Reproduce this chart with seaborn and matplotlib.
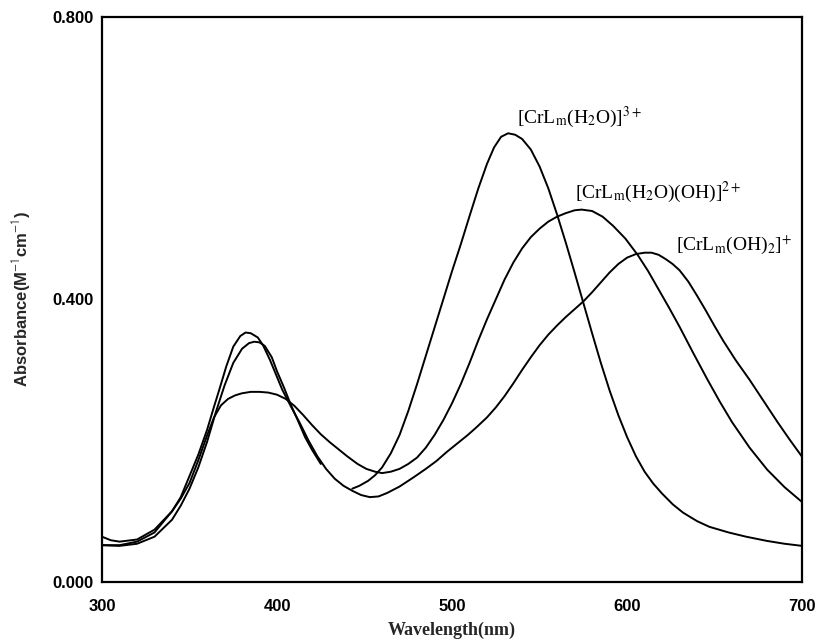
import matplotlib
matplotlib.use("Agg")
import matplotlib.pyplot as plt
import seaborn as sns
import pandas as pd

# ---- data ----
# [CrLm(H2O)]3+  (UV part, then visible part; gap between 425 and 443 nm)
a_uv_nm = [300, 310, 320, 330, 340, 345, 350, 355, 360, 365, 370, 375, 380, 384, 387,
           390, 393, 397, 400, 404, 408, 412, 416, 420, 425]
a_uv_abs = [0.052, 0.051, 0.054, 0.064, 0.088, 0.108, 0.132, 0.162, 0.198, 0.240, 0.278,
            0.310, 0.330, 0.338, 0.340, 0.339, 0.334, 0.318, 0.298, 0.275, 0.250, 0.228,
            0.205, 0.187, 0.167]
a_vis_nm = [443, 447, 452, 456, 460, 465, 470, 475, 480, 485, 490, 495, 500, 505, 510,
            515, 520, 524, 528, 532, 536, 540, 545, 550, 555, 560, 565, 570, 575, 580,
            585, 590, 595, 600, 605, 610, 615, 620, 626, 632, 640, 647, 658, 668, 680,
            690, 700]
a_vis_abs = [0.132, 0.136, 0.143, 0.151, 0.162, 0.182, 0.208, 0.242, 0.280, 0.320, 0.360,
             0.400, 0.440, 0.478, 0.518, 0.557, 0.592, 0.615, 0.630, 0.635, 0.633, 0.627,
             0.612, 0.588, 0.557, 0.520, 0.480, 0.438, 0.395, 0.352, 0.310, 0.271, 0.236,
             0.205, 0.178, 0.156, 0.139, 0.125, 0.110, 0.098, 0.086, 0.078, 0.070, 0.064,
             0.058, 0.054, 0.051]

# [CrLm(H2O)(OH)]2+
b_nm = [300, 305, 310, 320, 330, 340, 345, 350, 355, 360, 364, 368, 372, 376, 380, 385,
        390, 395, 400, 405, 410, 415, 420, 425, 430, 435, 440, 446, 451, 456, 460, 465,
        470, 475, 480, 485, 490, 495, 500, 505, 510, 515, 520, 525, 530, 535, 540, 545,
        550, 555, 560, 565, 570, 574, 580, 586, 592, 599, 606, 612, 618, 624, 630, 638,
        646, 653, 660, 670, 680, 690, 700]
b_abs = [0.064, 0.059, 0.057, 0.060, 0.074, 0.100, 0.118, 0.140, 0.172, 0.207, 0.233,
         0.250, 0.259, 0.264, 0.267, 0.269, 0.269, 0.268, 0.265, 0.259, 0.249, 0.236,
         0.222, 0.209, 0.198, 0.188, 0.178, 0.167, 0.160, 0.156, 0.154, 0.156, 0.160,
         0.167, 0.176, 0.190, 0.208, 0.229, 0.253, 0.280, 0.310, 0.342, 0.372, 0.400,
         0.428, 0.452, 0.472, 0.488, 0.500, 0.510, 0.517, 0.522, 0.526, 0.527, 0.525,
         0.517, 0.504, 0.486, 0.463, 0.440, 0.414, 0.388, 0.361, 0.323, 0.286, 0.255,
         0.226, 0.190, 0.159, 0.134, 0.113]

# [CrLm(OH)2]+
c_nm = [300, 310, 320, 330, 340, 345, 349, 355, 360, 364, 367, 371, 375, 379, 382, 385,
        389, 392, 396, 400, 403, 408, 413, 418, 423, 428, 433, 438, 443, 448, 453, 458,
        463, 470, 478, 485, 491, 497, 503, 509, 514, 520, 525, 530, 535, 540, 545, 550,
        555, 560, 565, 570, 575, 580, 585, 590, 595, 600, 605, 610, 614, 618, 622, 626,
        630, 635, 640, 645, 650, 655, 662, 670, 678, 686, 693, 700]
c_abs = [0.052, 0.052, 0.057, 0.070, 0.100, 0.120, 0.144, 0.180, 0.215, 0.248, 0.272,
         0.305, 0.333, 0.348, 0.353, 0.352, 0.346, 0.335, 0.314, 0.290, 0.272, 0.248,
         0.225, 0.200, 0.178, 0.160, 0.146, 0.136, 0.129, 0.123, 0.120, 0.121, 0.126,
         0.135, 0.148, 0.160, 0.171, 0.184, 0.196, 0.208, 0.219, 0.233, 0.247, 0.263,
         0.281, 0.300, 0.318, 0.335, 0.350, 0.363, 0.375, 0.386, 0.397, 0.410, 0.424,
         0.438, 0.450, 0.459, 0.464, 0.466, 0.466, 0.463, 0.457, 0.450, 0.441, 0.425,
         0.405, 0.384, 0.362, 0.341, 0.314, 0.286, 0.256, 0.226, 0.201, 0.177]

x_ticks = [300, 400, 500, 600, 700]
x_tick_labels = ["300", "400", "500", "600", "700"]
y_ticks = [0.0, 0.4, 0.8]
y_tick_labels = ["0.000", "0.400", "0.800"]

labels = [r"[CrL$_{\mathrm{m}}$(H$_2$O)]$^{3+}$",
          r"[CrL$_{\mathrm{m}}$(H$_2$O)(OH)]$^{2+}$",
          r"[CrL$_{\mathrm{m}}$(OH)$_2$]$^{+}$"]
label_nm = [537, 570, 628]
label_abs = [0.657, 0.552, 0.477]

# ---- plot ----
sns.set_theme(style="white")
plt.rcParams["font.family"] = ["Liberation Sans", "DejaVu Sans"]
plt.rcParams["mathtext.fontset"] = "stix"

fig = plt.figure(figsize=(8.16, 6.43), dpi=100)
ax = fig.add_axes([0.125, 0.095, 0.858, 0.879])

segments = [
    pd.DataFrame({"nm": a_uv_nm, "abs": a_uv_abs}),
    pd.DataFrame({"nm": a_vis_nm, "abs": a_vis_abs}),
    pd.DataFrame({"nm": b_nm, "abs": b_abs}),
    pd.DataFrame({"nm": c_nm, "abs": c_abs}),
]
for seg in segments:
    sns.lineplot(data=seg, x="nm", y="abs", ax=ax, color="black", linewidth=1.4,
                 estimator=None, sort=False)
for ln in ax.get_lines():
    ln.set_solid_joinstyle("round")

ax.set_xlim(300, 700)
ax.set_ylim(0.0, 0.8)
ax.set_xticks(x_ticks)
ax.set_xticklabels(x_tick_labels)
ax.set_yticks(y_ticks)
ax.set_yticklabels(y_tick_labels)
ax.tick_params(axis="both", direction="out", length=3, width=1.2, color="black",
               labelsize=12, labelcolor="black")
ax.tick_params(axis="x", pad=9)
ax.tick_params(axis="y", pad=3)
for lab in ax.get_xticklabels() + ax.get_yticklabels():
    lab.set_fontweight("bold")

for sp in ax.spines.values():
    sp.set_visible(True)
    sp.set_color("black")
    sp.set_linewidth(1.6)

ax.set_xlabel("Wavelength(nm)", fontsize=13, fontweight="bold",
              family=["Liberation Serif", "DejaVu Serif"], labelpad=6)
ax.set_ylabel(r"Absorbance(M$^{\mathsf{-1}}$cm$^{\mathsf{-1}}$)", fontsize=12,
              fontweight="bold", labelpad=14)

for txt, xx, yy in zip(labels, label_nm, label_abs):
    ax.text(xx, yy, txt, fontsize=14, family=["Liberation Serif", "DejaVu Serif"],
            ha="left", va="center", color="black")

ax.grid(False)
fig.savefig("out.png", dpi=100, facecolor="white")
